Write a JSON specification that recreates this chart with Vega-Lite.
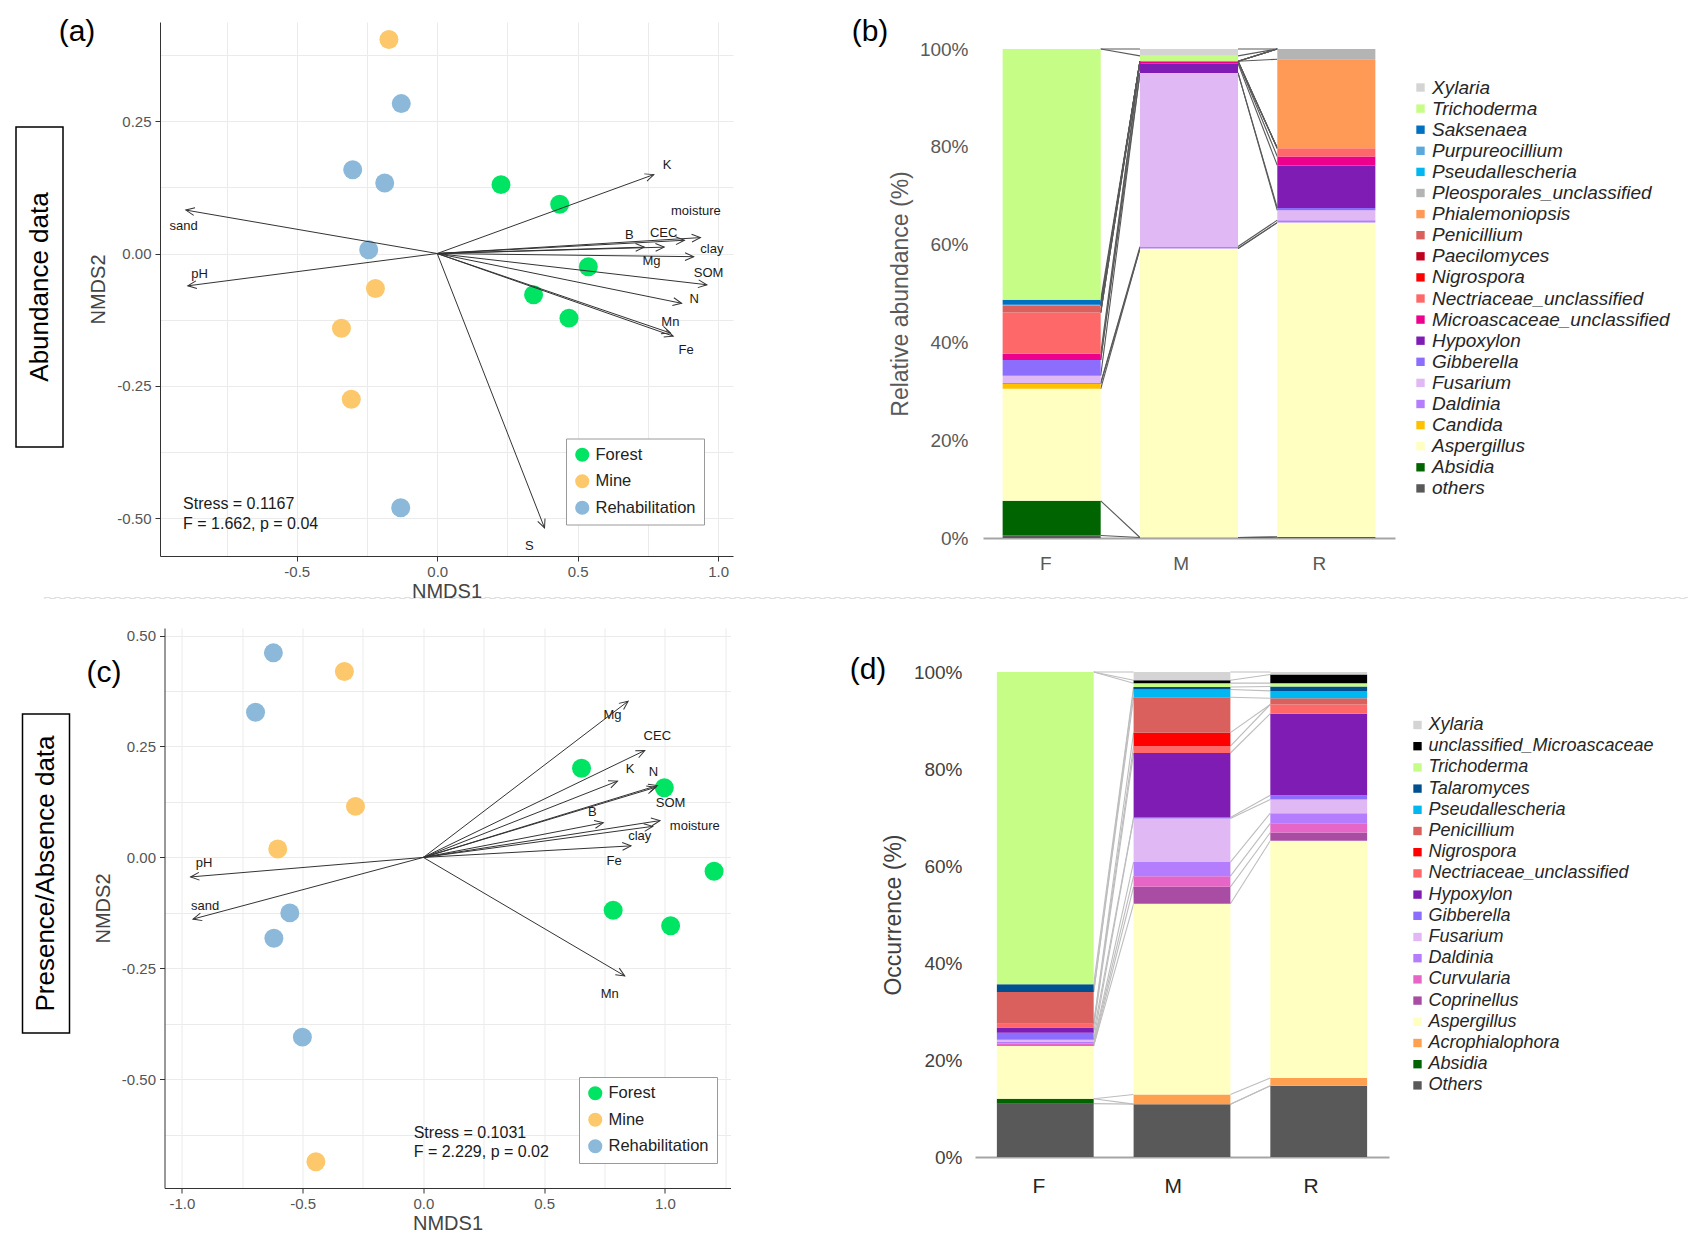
{
"$schema": "https://vega.github.io/schema/vega-lite/v6.json",
"background": "white",
"padding": {"left": 15, "top": 0, "right": 5, "bottom": 5},
"config": {"font": "Liberation Sans", "view": {"stroke": null}},
"datasets": {
"ptsA": [
{"site":"Forest","NMDS1":0.227,"NMDS2":0.130},{"site":"Forest","NMDS1":0.436,"NMDS2":0.093},{"site":"Forest","NMDS1":0.538,"NMDS2":-0.025},{"site":"Forest","NMDS1":0.343,"NMDS2":-0.078},{"site":"Forest","NMDS1":0.469,"NMDS2":-0.122},
{"site":"Mine","NMDS1":-0.172,"NMDS2":0.404},{"site":"Mine","NMDS1":-0.220,"NMDS2":-0.066},{"site":"Mine","NMDS1":-0.341,"NMDS2":-0.141},{"site":"Mine","NMDS1":-0.306,"NMDS2":-0.275},
{"site":"Rehabilitation","NMDS1":-0.128,"NMDS2":0.283},{"site":"Rehabilitation","NMDS1":-0.301,"NMDS2":0.158},{"site":"Rehabilitation","NMDS1":-0.187,"NMDS2":0.133},{"site":"Rehabilitation","NMDS1":-0.244,"NMDS2":0.007},{"site":"Rehabilitation","NMDS1":-0.130,"NMDS2":-0.480}],
"arrA": [
{"var":"K","o1":0,"o2":0,"NMDS1":0.771,"NMDS2":0.149,"lx":0.818,"ly":0.168},
{"var":"sand","o1":0,"o2":0,"NMDS1":-0.895,"NMDS2":0.082,"lx":-0.903,"ly":0.052},
{"var":"pH","o1":0,"o2":0,"NMDS1":-0.888,"NMDS2":-0.061,"lx":-0.846,"ly":-0.039},
{"var":"moisture","o1":0,"o2":0,"NMDS1":0.937,"NMDS2":0.030,"lx":0.921,"ly":0.080},
{"var":"clay","o1":0,"o2":0,"NMDS1":0.913,"NMDS2":-0.006,"lx":0.978,"ly":0.008},
{"var":"B","o1":0,"o2":0,"NMDS1":0.737,"NMDS2":0.012,"lx":0.684,"ly":0.034},
{"var":"CEC","o1":0,"o2":0,"NMDS1":0.880,"NMDS2":0.025,"lx":0.806,"ly":0.038},
{"var":"Mg","o1":0,"o2":0,"NMDS1":0.808,"NMDS2":0.012,"lx":0.763,"ly":-0.015},
{"var":"SOM","o1":0,"o2":0,"NMDS1":0.960,"NMDS2":-0.059,"lx":0.966,"ly":-0.037},
{"var":"N","o1":0,"o2":0,"NMDS1":0.870,"NMDS2":-0.094,"lx":0.915,"ly":-0.086},
{"var":"Mn","o1":0,"o2":0,"NMDS1":0.830,"NMDS2":-0.150,"lx":0.830,"ly":-0.130},
{"var":"Fe","o1":0,"o2":0,"NMDS1":0.840,"NMDS2":-0.156,"lx":0.886,"ly":-0.183},
{"var":"S","o1":0,"o2":0,"NMDS1":0.382,"NMDS2":-0.518,"lx":0.328,"ly":-0.553}],
"annA": [{"t":"Stress = 0.1167","x":-0.905,"y":-0.473},{"t":"F = 1.662, p = 0.04","x":-0.905,"y":-0.511}],
"ptsC": [
{"site":"Forest","NMDS1":0.655,"NMDS2":0.201},{"site":"Forest","NMDS1":0.998,"NMDS2":0.157},{"site":"Forest","NMDS1":1.204,"NMDS2":-0.031},{"site":"Forest","NMDS1":0.786,"NMDS2":-0.119},{"site":"Forest","NMDS1":1.024,"NMDS2":-0.154},
{"site":"Mine","NMDS1":-0.327,"NMDS2":0.419},{"site":"Mine","NMDS1":-0.281,"NMDS2":0.115},{"site":"Mine","NMDS1":-0.603,"NMDS2":0.019},{"site":"Mine","NMDS1":-0.445,"NMDS2":-0.686},
{"site":"Rehabilitation","NMDS1":-0.621,"NMDS2":0.461},{"site":"Rehabilitation","NMDS1":-0.695,"NMDS2":0.327},{"site":"Rehabilitation","NMDS1":-0.553,"NMDS2":-0.125},{"site":"Rehabilitation","NMDS1":-0.619,"NMDS2":-0.182},{"site":"Rehabilitation","NMDS1":-0.501,"NMDS2":-0.405}],
"arrC": [
{"var":"Mg","o1":0,"o2":0,"NMDS1":0.848,"NMDS2":0.352,"lx":0.783,"ly":0.320},
{"var":"CEC","o1":0,"o2":0,"NMDS1":0.917,"NMDS2":0.241,"lx":0.969,"ly":0.273},
{"var":"K","o1":0,"o2":0,"NMDS1":0.804,"NMDS2":0.172,"lx":0.856,"ly":0.200},
{"var":"N","o1":0,"o2":0,"NMDS1":0.969,"NMDS2":0.162,"lx":0.953,"ly":0.192},
{"var":"SOM","o1":0,"o2":0,"NMDS1":0.962,"NMDS2":0.158,"lx":1.024,"ly":0.122},
{"var":"B","o1":0,"o2":0,"NMDS1":0.745,"NMDS2":0.078,"lx":0.700,"ly":0.102},
{"var":"moisture","o1":0,"o2":0,"NMDS1":0.980,"NMDS2":0.083,"lx":1.124,"ly":0.071},
{"var":"clay","o1":0,"o2":0,"NMDS1":0.950,"NMDS2":0.070,"lx":0.896,"ly":0.049},
{"var":"Fe","o1":0,"o2":0,"NMDS1":0.860,"NMDS2":0.026,"lx":0.790,"ly":-0.007},
{"var":"Mn","o1":0,"o2":0,"NMDS1":0.834,"NMDS2":-0.267,"lx":0.772,"ly":-0.307},
{"var":"pH","o1":0,"o2":0,"NMDS1":-0.964,"NMDS2":-0.044,"lx":-0.908,"ly":-0.012},
{"var":"sand","o1":0,"o2":0,"NMDS1":-0.954,"NMDS2":-0.139,"lx":-0.904,"ly":-0.109}],
"annC": [{"t":"Stress = 0.1031","x":-0.04,"y":-0.620},{"t":"F = 2.229, p = 0.02","x":-0.04,"y":-0.664}],
"barB": [
{"group":"F","genus":"others","value":0.5},{"group":"F","genus":"Absidia","value":7.1},{"group":"F","genus":"Aspergillus","value":22.9},{"group":"F","genus":"Candida","value":1.0},{"group":"F","genus":"Daldinia","value":0.2},{"group":"F","genus":"Fusarium","value":1.5},{"group":"F","genus":"Gibberella","value":3.2},{"group":"F","genus":"Hypoxylon","value":0},{"group":"F","genus":"Microascaceae_unclassified","value":1.3},{"group":"F","genus":"Nectriaceae_unclassified","value":8.4},{"group":"F","genus":"Nigrospora","value":0},{"group":"F","genus":"Paecilomyces","value":0},{"group":"F","genus":"Penicillium","value":1.4},{"group":"F","genus":"Phialemoniopsis","value":0},{"group":"F","genus":"Pleosporales_unclassified","value":0},{"group":"F","genus":"Pseudallescheria","value":0},{"group":"F","genus":"Purpureocillium","value":0.2},{"group":"F","genus":"Saksenaea","value":1.0},{"group":"F","genus":"Trichoderma","value":51.3},{"group":"F","genus":"Xylaria","value":0},
{"group":"M","genus":"others","value":0.1},{"group":"M","genus":"Absidia","value":0},{"group":"M","genus":"Aspergillus","value":59.1},{"group":"M","genus":"Candida","value":0},{"group":"M","genus":"Daldinia","value":0.4},{"group":"M","genus":"Fusarium","value":35.5},{"group":"M","genus":"Gibberella","value":0},{"group":"M","genus":"Hypoxylon","value":1.9},{"group":"M","genus":"Microascaceae_unclassified","value":0.5},{"group":"M","genus":"Nectriaceae_unclassified","value":0},{"group":"M","genus":"Nigrospora","value":0},{"group":"M","genus":"Paecilomyces","value":0},{"group":"M","genus":"Penicillium","value":0},{"group":"M","genus":"Phialemoniopsis","value":0},{"group":"M","genus":"Pleosporales_unclassified","value":0},{"group":"M","genus":"Pseudallescheria","value":0},{"group":"M","genus":"Purpureocillium","value":0},{"group":"M","genus":"Saksenaea","value":0},{"group":"M","genus":"Trichoderma","value":1.1},{"group":"M","genus":"Xylaria","value":1.4},
{"group":"R","genus":"others","value":0.2},{"group":"R","genus":"Absidia","value":0},{"group":"R","genus":"Aspergillus","value":64.3},{"group":"R","genus":"Candida","value":0},{"group":"R","genus":"Daldinia","value":0.5},{"group":"R","genus":"Fusarium","value":2.0},{"group":"R","genus":"Gibberella","value":0.5},{"group":"R","genus":"Hypoxylon","value":8.7},{"group":"R","genus":"Microascaceae_unclassified","value":1.8},{"group":"R","genus":"Nectriaceae_unclassified","value":1.7},{"group":"R","genus":"Nigrospora","value":0},{"group":"R","genus":"Paecilomyces","value":0},{"group":"R","genus":"Penicillium","value":0},{"group":"R","genus":"Phialemoniopsis","value":18.2},{"group":"R","genus":"Pleosporales_unclassified","value":2.1},{"group":"R","genus":"Pseudallescheria","value":0},{"group":"R","genus":"Purpureocillium","value":0},{"group":"R","genus":"Saksenaea","value":0},{"group":"R","genus":"Trichoderma","value":0},{"group":"R","genus":"Xylaria","value":0}],
"barD": [
{"group":"F","genus":"Others","value":11.0},{"group":"F","genus":"Absidia","value":1.0},{"group":"F","genus":"Acrophialophora","value":0},{"group":"F","genus":"Aspergillus","value":10.9},{"group":"F","genus":"Coprinellus","value":0},{"group":"F","genus":"Curvularia","value":0.5},{"group":"F","genus":"Daldinia","value":0.3},{"group":"F","genus":"Fusarium","value":0.5},{"group":"F","genus":"Gibberella","value":1.4},{"group":"F","genus":"Hypoxylon","value":1.1},{"group":"F","genus":"Nectriaceae_unclassified","value":0.8},{"group":"F","genus":"Nigrospora","value":0},{"group":"F","genus":"Penicillium","value":6.5},{"group":"F","genus":"Pseudallescheria","value":0},{"group":"F","genus":"Talaromyces","value":1.6},{"group":"F","genus":"Trichoderma","value":64.4},{"group":"F","genus":"unclassified_Microascaceae","value":0},{"group":"F","genus":"Xylaria","value":0},
{"group":"M","genus":"Others","value":10.9},{"group":"M","genus":"Absidia","value":0},{"group":"M","genus":"Acrophialophora","value":2.0},{"group":"M","genus":"Aspergillus","value":39.3},{"group":"M","genus":"Coprinellus","value":3.5},{"group":"M","genus":"Curvularia","value":2.2},{"group":"M","genus":"Daldinia","value":2.9},{"group":"M","genus":"Fusarium","value":9.0},{"group":"M","genus":"Gibberella","value":0.2},{"group":"M","genus":"Hypoxylon","value":13.3},{"group":"M","genus":"Nectriaceae_unclassified","value":1.4},{"group":"M","genus":"Nigrospora","value":2.8},{"group":"M","genus":"Penicillium","value":7.3},{"group":"M","genus":"Pseudallescheria","value":1.6},{"group":"M","genus":"Talaromyces","value":0.5},{"group":"M","genus":"Trichoderma","value":0.8},{"group":"M","genus":"unclassified_Microascaceae","value":0.6},{"group":"M","genus":"Xylaria","value":1.7},
{"group":"R","genus":"Others","value":14.7},{"group":"R","genus":"Absidia","value":0},{"group":"R","genus":"Acrophialophora","value":1.6},{"group":"R","genus":"Aspergillus","value":48.9},{"group":"R","genus":"Coprinellus","value":1.7},{"group":"R","genus":"Curvularia","value":1.9},{"group":"R","genus":"Daldinia","value":2.1},{"group":"R","genus":"Fusarium","value":2.8},{"group":"R","genus":"Gibberella","value":0.9},{"group":"R","genus":"Hypoxylon","value":16.8},{"group":"R","genus":"Nectriaceae_unclassified","value":1.9},{"group":"R","genus":"Nigrospora","value":0},{"group":"R","genus":"Penicillium","value":1.3},{"group":"R","genus":"Pseudallescheria","value":1.5},{"group":"R","genus":"Talaromyces","value":0.9},{"group":"R","genus":"Trichoderma","value":0.7},{"group":"R","genus":"unclassified_Microascaceae","value":1.8},{"group":"R","genus":"Xylaria","value":0.5}]
},
"hconcat": [
 {"vconcat": [
   {"width": 1, "height": 127, "data": {"values": [{"label": ""}]}, "mark": {"type": "text"}, "encoding": {"text": {"field": "label", "type": "nominal"}}},
   {"width": 47, "height": 320, "view": {"stroke": "#000000", "strokeWidth": 1.5}, "data": {"values": [{"label": "Abundance data"}]}, "mark": {"type": "text", "angle": 270, "fontSize": 26, "color": "#000000"}, "encoding": {"text": {"field": "label", "type": "nominal"}}}
 ], "spacing": 0, "bounds": "flush"},
 {"hconcat": [
  {"vconcat": [
    {"width": 1, "height": 714, "data": {"values": [{"label": ""}]}, "mark": {"type": "text"}, "encoding": {"text": {"field": "label", "type": "nominal"}}},
    {"width": 47, "height": 319, "view": {"stroke": "#000000", "strokeWidth": 1.5}, "data": {"values": [{"label": "Presence/Absence data"}]}, "mark": {"type": "text", "angle": 270, "fontSize": 26, "color": "#000000"}, "encoding": {"text": {"field": "label", "type": "nominal"}}}
  ], "spacing": 0, "bounds": "flush"},
  {"hconcat": [
   {"vconcat": [
     {"width": 1, "height": 597, "data": {"values": [{"label": ""}]}, "mark": {"type": "text"}, "encoding": {"text": {"field": "label", "type": "nominal"}}},
     {"width": 1645, "height": 1, "view": {"stroke": "#dedede", "strokeWidth": 1, "strokeDash": [6, 4]}, "data": {"values": [{"label": ""}]}, "mark": {"type": "text"}, "encoding": {"text": {"field": "label", "type": "nominal"}}}
   ], "spacing": 0, "bounds": "flush"},
   {"hconcat": [
    {"vconcat": [
      {"width": 1, "height": 15, "data": {"values": [{"label": ""}]}, "mark": {"type": "text"}, "encoding": {"text": {"field": "label", "type": "nominal"}}},
      {"vconcat": [
        {"width": 40, "height": 34, "data": {"values": [{"t": "(a)"}]}, "mark": {"type": "text", "fontSize": 30, "color": "#000000"}, "encoding": {"text": {"field": "t", "type": "nominal"}}},
        {"width": 94, "height": 34, "data": {"values": [{"t": "(c)"}]}, "mark": {"type": "text", "fontSize": 30, "color": "#000000"}, "encoding": {"text": {"field": "t", "type": "nominal"}}}
      ], "spacing": 607, "bounds": "flush"}
    ], "spacing": 0, "bounds": "flush"},
    {"hconcat": [
     {"vconcat": [
       {"width": 1, "height": 21.5, "data": {"values": [{"label": ""}]}, "mark": {"type": "text"}, "encoding": {"text": {"field": "label", "type": "nominal"}}},
       {"width": 573, "height": 534,
        "layer": [
         {"data": {"name": "ptsA"}, "mark": {"type": "circle", "size": 360, "opacity": 1},
          "encoding": {
           "x": {"field": "NMDS1", "type": "quantitative", "title": "NMDS1", "scale": {"domain": [-0.987, 1.053], "nice": false, "zero": false},
                 "axis": {"values": [-0.75,-0.5,-0.25,0,0.25,0.5,0.75,1], "labelExpr": "abs(datum.value*2-round(datum.value*2))<0.001 ? replace(format(datum.value,'.1f'),'\u2212','-') : ''", "tickOpacity": {"condition": {"test": "abs(datum.value*2-round(datum.value*2))<0.001", "value": 1}, "value": 0}, "grid": true, "gridColor": "#ebebeb", "domainColor": "#333333", "tickColor": "#333333", "tickSize": 5, "labelFontSize": 15, "labelColor": "#555555", "labelPadding": 3, "labelFlush": false, "labelOverlap": false, "titleFontSize": 20, "titleFontWeight": "normal", "titleColor": "#444444", "titlePadding": 2}},
           "y": {"field": "NMDS2", "type": "quantitative", "title": "NMDS2", "scale": {"domain": [-0.571, 0.437], "nice": false, "zero": false},
                 "axis": {"values": [-0.5,-0.375,-0.25,-0.125,0,0.125,0.25,0.375], "labelExpr": "abs(datum.value*4-round(datum.value*4))<0.001 ? replace(format(datum.value,'.2f'),'\u2212','-') : ''", "tickOpacity": {"condition": {"test": "abs(datum.value*4-round(datum.value*4))<0.001", "value": 1}, "value": 0}, "grid": true, "gridColor": "#ebebeb", "domainColor": "#333333", "tickColor": "#333333", "tickSize": 5, "labelFontSize": 15, "labelColor": "#555555", "labelPadding": 4, "labelFlush": false, "labelOverlap": false, "titleFontSize": 20, "titleFontWeight": "normal", "titleColor": "#444444", "titlePadding": 8}},
           "color": {"field": "site", "type": "nominal", "scale": {"domain": ["Forest","Mine","Rehabilitation"], "range": ["#00e463","#fcc86b","#8cb8d9"]},
                 "legend": {"orient": "none", "legendX": 406, "legendY": 416.5, "title": null, "strokeColor": "#9a9a9a", "fillColor": "#ffffff", "padding": 8, "symbolType": "circle", "symbolSize": 200, "symbolStrokeWidth": 0, "symbolOpacity": 1, "labelFontSize": 16.5, "labelColor": "#222222", "rowPadding": 9.5, "labelOffset": 5, "labelLimit": 300}}
          }},
         {"data": {"name": "arrA"}, "mark": {"type": "rule", "color": "#333333", "strokeWidth": 1},
          "encoding": {"x": {"field": "o1", "type": "quantitative", "title": "NMDS1"}, "x2": {"field": "NMDS1"}, "y": {"field": "o2", "type": "quantitative", "title": "NMDS2"}, "y2": {"field": "NMDS2"}}},
         {"data": {"name": "arrA"}, "transform": [{"calculate": "atan2(-datum.NMDS2*529.8, datum.NMDS1*280.9)*180/PI", "as": "ang"}],
          "mark": {"type": "point", "shape": "M-1,-0.45L0,0L-1,0.45", "filled": false, "size": 300, "color": "#333333", "strokeWidth": 1, "opacity": 1},
          "encoding": {"x": {"field": "NMDS1", "type": "quantitative", "title": "NMDS1"}, "y": {"field": "NMDS2", "type": "quantitative", "title": "NMDS2"}, "angle": {"field": "ang", "type": "quantitative", "scale": null}}},
         {"data": {"name": "arrA"}, "mark": {"type": "text", "fontSize": 13, "color": "#1a1a1a"},
          "encoding": {"x": {"field": "lx", "type": "quantitative", "title": "NMDS1"}, "y": {"field": "ly", "type": "quantitative", "title": "NMDS2"}, "text": {"field": "var", "type": "nominal"}}},
         {"data": {"name": "annA"}, "mark": {"type": "text", "align": "left", "fontSize": 16, "color": "#1a1a1a"},
          "encoding": {"x": {"field": "x", "type": "quantitative", "title": "NMDS1"}, "y": {"field": "y", "type": "quantitative", "title": "NMDS2"}, "text": {"field": "t", "type": "nominal"}}}
        ]}
     ], "spacing": 0, "bounds": "flush", "resolve": {"scale": {"color": "independent"}, "legend": {"color": "independent"}}},
     {"hconcat": [
      {"vconcat": [
        {"width": 1, "height": 627.6, "data": {"values": [{"label": ""}]}, "mark": {"type": "text"}, "encoding": {"text": {"field": "label", "type": "nominal"}}},
        {"width": 566, "height": 560,
         "layer": [
          {"data": {"name": "ptsC"}, "mark": {"type": "circle", "size": 360, "opacity": 1},
           "encoding": {
            "x": {"field": "NMDS1", "type": "quantitative", "title": "NMDS1", "scale": {"domain": [-1.072, 1.272], "nice": false, "zero": false},
                  "axis": {"values": [-1,-0.75,-0.5,-0.25,0,0.25,0.5,0.75,1,1.25], "labelExpr": "abs(datum.value*2-round(datum.value*2))<0.001 ? replace(format(datum.value,'.1f'),'\u2212','-') : ''", "tickOpacity": {"condition": {"test": "abs(datum.value*2-round(datum.value*2))<0.001", "value": 1}, "value": 0}, "grid": true, "gridColor": "#ebebeb", "domainColor": "#333333", "tickColor": "#333333", "tickSize": 5, "labelFontSize": 15, "labelColor": "#555555", "labelPadding": 3, "labelFlush": false, "labelOverlap": false, "titleFontSize": 20, "titleFontWeight": "normal", "titleColor": "#444444", "titlePadding": 2}},
            "y": {"field": "NMDS2", "type": "quantitative", "title": "NMDS2", "scale": {"domain": [-0.745, 0.517], "nice": false, "zero": false},
                  "axis": {"values": [-0.625,-0.5,-0.375,-0.25,-0.125,0,0.125,0.25,0.375,0.5], "labelExpr": "abs(datum.value*4-round(datum.value*4))<0.001 ? replace(format(datum.value,'.2f'),'\u2212','-') : ''", "tickOpacity": {"condition": {"test": "abs(datum.value*4-round(datum.value*4))<0.001", "value": 1}, "value": 0}, "grid": true, "gridColor": "#ebebeb", "domainColor": "#333333", "tickColor": "#333333", "tickSize": 5, "labelFontSize": 15, "labelColor": "#555555", "labelPadding": 4, "labelFlush": false, "labelOverlap": false, "titleFontSize": 20, "titleFontWeight": "normal", "titleColor": "#444444", "titlePadding": 8}},
            "color": {"field": "site", "type": "nominal", "scale": {"domain": ["Forest","Mine","Rehabilitation"], "range": ["#00e463","#fcc86b","#8cb8d9"]},
                  "legend": {"orient": "none", "legendX": 414.5, "legendY": 449, "title": null, "strokeColor": "#9a9a9a", "fillColor": "#ffffff", "padding": 8, "symbolType": "circle", "symbolSize": 200, "symbolStrokeWidth": 0, "symbolOpacity": 1, "labelFontSize": 16.5, "labelColor": "#222222", "rowPadding": 9.5, "labelOffset": 5, "labelLimit": 300}}
           }},
          {"data": {"name": "arrC"}, "mark": {"type": "rule", "color": "#333333", "strokeWidth": 1},
           "encoding": {"x": {"field": "o1", "type": "quantitative", "title": "NMDS1"}, "x2": {"field": "NMDS1"}, "y": {"field": "o2", "type": "quantitative", "title": "NMDS2"}, "y2": {"field": "NMDS2"}}},
          {"data": {"name": "arrC"}, "transform": [{"calculate": "atan2(-datum.NMDS2*443.7, datum.NMDS1*241.5)*180/PI", "as": "ang"}],
           "mark": {"type": "point", "shape": "M-1,-0.45L0,0L-1,0.45", "filled": false, "size": 300, "color": "#333333", "strokeWidth": 1, "opacity": 1},
           "encoding": {"x": {"field": "NMDS1", "type": "quantitative", "title": "NMDS1"}, "y": {"field": "NMDS2", "type": "quantitative", "title": "NMDS2"}, "angle": {"field": "ang", "type": "quantitative", "scale": null}}},
          {"data": {"name": "arrC"}, "mark": {"type": "text", "fontSize": 13, "color": "#1a1a1a"},
           "encoding": {"x": {"field": "lx", "type": "quantitative", "title": "NMDS1"}, "y": {"field": "ly", "type": "quantitative", "title": "NMDS2"}, "text": {"field": "var", "type": "nominal"}}},
          {"data": {"name": "annC"}, "mark": {"type": "text", "align": "left", "fontSize": 16, "color": "#1a1a1a"},
           "encoding": {"x": {"field": "x", "type": "quantitative", "title": "NMDS1"}, "y": {"field": "y", "type": "quantitative", "title": "NMDS2"}, "text": {"field": "t", "type": "nominal"}}}
         ]}
      ], "spacing": 0, "bounds": "flush", "resolve": {"scale": {"color": "independent"}, "legend": {"color": "independent"}}},
      {"hconcat": [
       {"vconcat": [
         {"width": 1, "height": 15, "data": {"values": [{"label": ""}]}, "mark": {"type": "text"}, "encoding": {"text": {"field": "label", "type": "nominal"}}},
         {"vconcat": [
           {"width": 40, "height": 34, "data": {"values": [{"t": "(b)"}]}, "mark": {"type": "text", "fontSize": 30, "color": "#000000"}, "encoding": {"text": {"field": "t", "type": "nominal"}}},
           {"width": 36, "height": 34, "data": {"values": [{"t": "(d)"}]}, "mark": {"type": "text", "fontSize": 30, "color": "#000000"}, "encoding": {"text": {"field": "t", "type": "nominal"}}}
         ], "spacing": 604, "bounds": "flush"}
       ], "spacing": 0, "bounds": "flush"},
       {"hconcat": [
        {"vconcat": [
          {"width": 1, "height": 671.7, "data": {"values": [{"label": ""}]}, "mark": {"type": "text"}, "encoding": {"text": {"field": "label", "type": "nominal"}}},
          {"width": 414, "height": 485,
           "data": {"name": "barD"},
           "transform": [{"stack": "value", "groupby": ["group"], "as": ["v0", "v1"]}],
           "layer": [
            {"transform": [{"window": [{"op": "lead", "field": "v1", "as": "n1"}, {"op": "lead", "field": "group", "as": "ng"}], "groupby": ["genus"], "sort": [{"field": "group", "order": "ascending"}]}, {"filter": "datum.ng != null"}],
             "mark": {"type": "rule", "color": "#bdbdbd", "strokeWidth": 1.1},
             "encoding": {"x": {"field": "group", "type": "nominal", "bandPosition": 1, "title": null, "scale": {"type": "band", "domain": ["F","M","R"], "paddingInner": 0.292, "paddingOuter": 0.16}},
                          "x2": {"field": "ng", "bandPosition": 0},
                          "y": {"field": "v1", "type": "quantitative", "title": "Occurrence (%)"}, "y2": {"field": "n1"}}},
            {"mark": {"type": "bar"},
             "encoding": {
              "x": {"field": "group", "type": "nominal", "title": null, "scale": {"type": "band", "domain": ["F","M","R"], "paddingInner": 0.292, "paddingOuter": 0.16},
                    "axis": {"domain": true, "domainColor": "#a6a6a6", "domainWidth": 2, "ticks": false, "grid": false, "labelAngle": 0, "labelFontSize": 21, "labelColor": "#262626", "labelPadding": 29}},
              "y": {"field": "v0", "type": "quantitative", "title": "Occurrence (%)", "scale": {"domain": [0, 100], "nice": false},
                    "axis": {"values": [0,20,40,60,80,100], "labelExpr": "datum.value + '%'", "domain": false, "ticks": false, "grid": false, "labelFontSize": 19, "labelColor": "#404040", "labelPadding": 13, "titleFontSize": 23, "titleFontWeight": "normal", "titleColor": "#404040", "titlePadding": 8}},
              "y2": {"field": "v1"},
              "color": {"field": "genus", "type": "nominal",
                "scale": {"domain": ["Xylaria","unclassified_Microascaceae","Trichoderma","Talaromyces","Pseudallescheria","Penicillium","Nigrospora","Nectriaceae_unclassified","Hypoxylon","Gibberella","Fusarium","Daldinia","Curvularia","Coprinellus","Aspergillus","Acrophialophora","Absidia","Others"],
                          "range": ["#d4d4d4","#000000","#c6fd86","#004f8f","#00b7f1","#d9605c","#ff0000","#ff6868","#7e1cb4","#8c6dfc","#e0b8f4","#b37dfd","#e566c6","#a84ca4","#ffffc2","#ffa050","#006400","#595959"]},
                "legend": {"orient": "none", "legendX": 433.5, "legendY": 44, "title": null, "symbolType": "square", "symbolSize": 70, "symbolStrokeWidth": 0, "labelFontSize": 18, "labelFontStyle": "italic", "labelColor": "#262626", "rowPadding": 3.2, "labelOffset": 2, "labelLimit": 400}}
             }}
           ]}
        ], "spacing": 0, "bounds": "flush", "resolve": {"scale": {"color": "independent"}, "legend": {"color": "independent"}}},
        {"vconcat": [
          {"width": 1, "height": 49, "data": {"values": [{"label": ""}]}, "mark": {"type": "text"}, "encoding": {"text": {"field": "label", "type": "nominal"}}},
          {"width": 412, "height": 489,
           "data": {"name": "barB"},
           "transform": [{"stack": "value", "groupby": ["group"], "as": ["v0", "v1"]}],
           "layer": [
            {"transform": [{"window": [{"op": "lead", "field": "v1", "as": "n1"}, {"op": "lead", "field": "group", "as": "ng"}], "groupby": ["genus"], "sort": [{"field": "group", "order": "ascending"}]}, {"filter": "datum.ng != null"}],
             "mark": {"type": "rule", "color": "#595959", "strokeWidth": 1.1},
             "encoding": {"x": {"field": "group", "type": "nominal", "bandPosition": 1, "title": null, "scale": {"type": "band", "domain": ["F","M","R"], "paddingInner": 0.286, "paddingOuter": 0.143}},
                          "x2": {"field": "ng", "bandPosition": 0},
                          "y": {"field": "v1", "type": "quantitative", "title": "Relative abundance (%)"}, "y2": {"field": "n1"}}},
            {"mark": {"type": "bar"},
             "encoding": {
              "x": {"field": "group", "type": "nominal", "title": null, "scale": {"type": "band", "domain": ["F","M","R"], "paddingInner": 0.286, "paddingOuter": 0.143},
                    "axis": {"domain": true, "domainColor": "#a6a6a6", "domainWidth": 2, "ticks": false, "grid": false, "labelAngle": 0, "labelFontSize": 19, "labelColor": "#595959", "labelPadding": 25}},
              "y": {"field": "v0", "type": "quantitative", "title": "Relative abundance (%)", "scale": {"domain": [0, 100], "nice": false},
                    "axis": {"values": [0,20,40,60,80,100], "labelExpr": "datum.value + '%'", "domain": false, "ticks": false, "grid": false, "labelFontSize": 19, "labelColor": "#595959", "labelPadding": 15, "titleFontSize": 23, "titleFontWeight": "normal", "titleColor": "#595959", "titlePadding": 7}},
              "y2": {"field": "v1"},
              "color": {"field": "genus", "type": "nominal",
                "scale": {"domain": ["Xylaria","Trichoderma","Saksenaea","Purpureocillium","Pseudallescheria","Pleosporales_unclassified","Phialemoniopsis","Penicillium","Paecilomyces","Nigrospora","Nectriaceae_unclassified","Microascaceae_unclassified","Hypoxylon","Gibberella","Fusarium","Daldinia","Candida","Aspergillus","Absidia","others"],
                          "range": ["#d4d4d4","#c6fd86","#0070c0","#5ba8dc","#00b7f1","#b4b4b4","#ff9955","#d9605c","#c0001f","#ff0000","#ff6868","#ec008c","#7e1cb4","#8c6dfc","#e0b8f4","#b37dfd","#ffc000","#ffffc2","#006400","#595959"]},
                "legend": {"orient": "none", "legendX": 428, "legendY": 29, "title": null, "symbolType": "square", "symbolSize": 70, "symbolStrokeWidth": 0, "labelFontSize": 19, "labelFontStyle": "italic", "labelColor": "#262626", "rowPadding": 1.1, "labelOffset": 2, "labelLimit": 400}}
             }}
           ]}
        ], "spacing": 0, "bounds": "flush", "resolve": {"scale": {"color": "independent"}, "legend": {"color": "independent"}}}
       ], "spacing": 8, "bounds": "flush", "resolve": {"scale": {"color": "independent"}, "legend": {"color": "independent"}}}
      ], "spacing": 125, "bounds": "flush", "resolve": {"scale": {"color": "independent"}, "legend": {"color": "independent"}}}
     ], "spacing": 685.5, "bounds": "flush", "resolve": {"scale": {"color": "independent"}, "legend": {"color": "independent"}}}
    ], "spacing": 4.5, "bounds": "flush", "resolve": {"scale": {"color": "independent"}, "legend": {"color": "independent"}}}
   ], "spacing": 103, "bounds": "flush", "resolve": {"scale": {"color": "independent"}, "legend": {"color": "independent"}}}
  ], "spacing": 13, "bounds": "flush", "resolve": {"scale": {"color": "independent"}, "legend": {"color": "independent"}}}
 ], "spacing": 21.5, "bounds": "flush", "resolve": {"scale": {"color": "independent"}, "legend": {"color": "independent"}}}
],
"spacing": 6.5,
"bounds": "flush",
"resolve": {"scale": {"color": "independent"}, "legend": {"color": "independent"}}
}
